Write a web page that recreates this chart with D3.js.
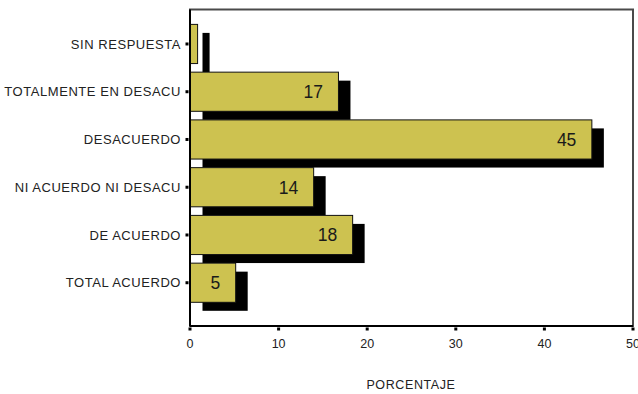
<!DOCTYPE html>
<html>
<head>
<meta charset="utf-8">
<script src="https://cdn.jsdelivr.net/npm/d3@7"></script>
<style>
  html, body { margin: 0; padding: 0; background: #fff; }
  svg { display: block; }
  text { font-family: "Liberation Sans", Arial, sans-serif; }
</style>
</head>
<body>
<svg id="chart" width="638" height="394"></svg>
<script>
const categories = ["SIN RESPUESTA", "TOTALMENTE EN DESACU", "DESACUERDO", "NI ACUERDO NI DESACU", "DE ACUERDO", "TOTAL ACUERDO"];
const values = [0.8, 16.7, 45.3, 13.9, 18.3, 5.1];
const xTicks = [0, 10, 20, 30, 40, 50];
const xTitle = "PORCENTAJE";

(function () {
const data = categories.map((c, i) => ({ cat: c, val: values[i] }));

const svg = d3.select("#chart");
const pLeft = 190, pRight = 633, pTop = 9.5, pBottom = 326;

const x = d3.scaleLinear().domain([0, 50]).range([pLeft, pRight]);
const y = d3.scaleBand().domain(categories).range([20.1, 306.6]).paddingInner(0.18).paddingOuter(0.09);

const dx = 12.5, dy = 8.5;

// frame (top & right)
svg.append("rect")
  .attr("x", pLeft).attr("y", pTop)
  .attr("width", pRight - pLeft).attr("height", pBottom - pTop)
  .attr("fill", "none").attr("stroke", "#4a4a4a").attr("stroke-width", 2);

// shadows
svg.append("g").selectAll("rect").data(data).join("rect")
  .attr("x", x(0) + dx)
  .attr("y", d => y(d.cat) + dy)
  .attr("width", d => x(d.val) - x(0))
  .attr("height", y.bandwidth())
  .attr("fill", "#000");

// bars
svg.append("g").selectAll("rect").data(data).join("rect")
  .attr("x", x(0) + 0.5)
  .attr("y", d => y(d.cat))
  .attr("width", d => x(d.val) - x(0))
  .attr("height", y.bandwidth())
  .attr("fill", "#CDC250")
  .attr("stroke", "#111").attr("stroke-width", 1);

// value labels
const fmt = d3.format(".0f");
svg.append("g").selectAll("text").data(data.filter(d => d.val >= 1)).join("text")
  .attr("x", d => x(d.val) - 15)
  .attr("y", d => y(d.cat) + y.bandwidth() / 2)
  .attr("dy", "0.36em")
  .attr("text-anchor", "end")
  .attr("font-size", 17.5)
  .attr("fill", "#1a1a1a")
  .text(d => fmt(d.val));

// axes lines
svg.append("line").attr("x1", pLeft).attr("x2", pLeft).attr("y1", pTop).attr("y2", pBottom)
  .attr("stroke", "#000").attr("stroke-width", 2);
svg.append("line").attr("x1", pLeft).attr("x2", pRight).attr("y1", pBottom).attr("y2", pBottom)
  .attr("stroke", "#000").attr("stroke-width", 2);

// y axis ticks and labels
const yg = svg.append("g");
yg.selectAll("rect").data(categories).join("rect")
  .attr("x", pLeft - 4.5).attr("y", d => y(d) + y.bandwidth() / 2 - 1.5)
  .attr("width", 3).attr("height", 3).attr("fill", "#000");
yg.selectAll("text").data(categories).join("text")
  .attr("x", pLeft - 9)
  .attr("y", d => y(d) + y.bandwidth() / 2)
  .attr("dy", "0.36em")
  .attr("text-anchor", "end")
  .attr("font-size", 13)
  .attr("letter-spacing", 0.55)
  .attr("fill", "#222")
  .text(d => d);

// x axis ticks and labels
const xg = svg.append("g");
xg.selectAll("rect").data(xTicks).join("rect")
  .attr("x", d => x(d) - 1.5).attr("y", pBottom + 1.5)
  .attr("width", 3).attr("height", 3).attr("fill", "#000");
xg.selectAll("text").data(xTicks).join("text")
  .attr("x", d => x(d))
  .attr("y", 348)
  .attr("text-anchor", "middle")
  .attr("font-size", 12.5)
  .attr("fill", "#222")
  .text(d => d);

svg.append("text")
  .attr("x", 411).attr("y", 389)
  .attr("text-anchor", "middle")
  .attr("font-size", 12.5)
  .attr("letter-spacing", 0.6)
  .attr("fill", "#222")
  .text(xTitle);
})();
</script>
</body>
</html>
